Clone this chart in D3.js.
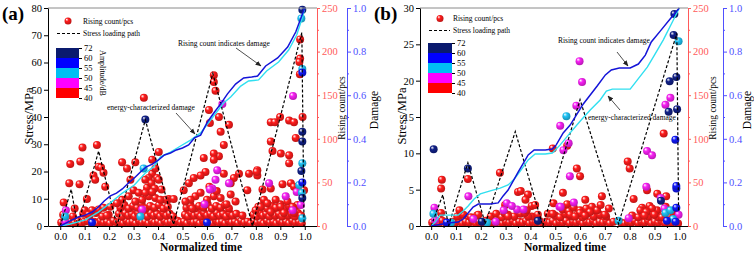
<!DOCTYPE html>
<html>
<head>
<meta charset="utf-8">
<script src="https://cdn.jsdelivr.net/npm/d3@7"></script>
<style>
  body { margin: 0; background: #fff; }
  svg text { font-family: "Liberation Serif", "Times New Roman", serif; }
</style>
</head>
<body>
<div id="chart"></div>
<script>
// ---- tick labels ----
var timeTicks = [0, 0.1, 0.2, 0.3, 0.4, 0.5, 0.6, 0.7, 0.8, 0.9, 1.0];
var aStressTicks = [0, 10, 20, 30, 40, 50, 60, 70, 80];
var bStressTicks = [0, 5, 10, 15, 20, 25, 30];
var countTicks = [0, 50, 100, 150, 200, 250];
var damageTicks = [0, 0.2, 0.4, 0.6, 0.8, 1.0];
var ampLabels = ['72', '60', '55', '50', '45', '40'];
var ampClasses = ['navy', 'blue', 'cyan', 'magenta', 'red'];

// ---- panel (a) ----
var aStressPath = [[0, 0], [0.045, 13.5], [0.071, 0], [0.157, 27.5], [0.232, 0], [0.348, 39], [0.463, 0.5],
  [0.624, 56], [0.786, 0], [0.988, 71], [0.997, 0]];

var aRiseDamage = [[0, 0], [0.025, 0.014], [0.049, 0.028], [0.074, 0.041], [0.102, 0.05], [0.131, 0.064],
  [0.156, 0.087], [0.18, 0.115], [0.205, 0.138], [0.23, 0.151], [0.254, 0.17], [0.279, 0.197], [0.303, 0.22],
  [0.328, 0.248], [0.352, 0.271], [0.377, 0.284], [0.402, 0.303], [0.426, 0.326], [0.451, 0.335], [0.475, 0.349],
  [0.5, 0.358], [0.525, 0.372], [0.549, 0.404], [0.574, 0.417], [0.602, 0.477], [0.631, 0.523], [0.656, 0.56],
  [0.684, 0.606], [0.717, 0.651], [0.75, 0.679], [0.783, 0.683], [0.807, 0.688], [0.84, 0.734], [0.889, 0.771],
  [0.93, 0.821], [0.963, 0.89], [0.992, 0.977], [1.0, 1.0]];

var aEnergyDamage = [[0, 0], [0.041, 0.009], [0.102, 0.028], [0.156, 0.064], [0.205, 0.106], [0.254, 0.151],
  [0.303, 0.188], [0.348, 0.243], [0.381, 0.271], [0.41, 0.317], [0.451, 0.339], [0.492, 0.367], [0.533, 0.394],
  [0.574, 0.427], [0.615, 0.486], [0.668, 0.564], [0.697, 0.592], [0.738, 0.642], [0.77, 0.665], [0.811, 0.67],
  [0.844, 0.711], [0.893, 0.752], [0.934, 0.807], [0.967, 0.876], [0.992, 0.963], [1.0, 1.0]];

var aRed = [[0.014, 27], [0.037, 49], [0.041, 71], [0.059, 20], [0.079, 48], [0.082, 74], [0.091, 90], [0.109, 31],
  [0.1, 18], [0.136, 58], [0.143, 53], [0.15, 93], [0.157, 68], [0.167, 67], [0.177, 61], [0.184, 45], [0.13, 18],
  [0.157, 19], [0.177, 21], [0.205, 22], [0.116, 13], [0.191, 12],
  [0.253, 73], [0.273, 66], [0.307, 73], [0.287, 53], [0.376, 60], [0.396, 55], [0.362, 55], [0.348, 53], [0.403, 53],
  [0.355, 44], [0.373, 49], [0.386, 43], [0.414, 42], [0.389, 66], [0.403, 85], [0.376, 76], [0.444, 31], [0.464, 31],
  [0.43, 30], [0.3, 41], [0.321, 38], [0.28, 34], [0.253, 30], [0.232, 26], [0.307, 28], [0.335, 30], [0.362, 34],
  [0.389, 32], [0.41, 30], [0.348, 38], [0.376, 39], [0.342, 147],
  [0.628, 173], [0.628, 165], [0.635, 155], [0.608, 133], [0.649, 125], [0.69, 116], [0.612, 118], [0.656, 108],
  [0.669, 93], [0.649, 80], [0.628, 83], [0.628, 76], [0.587, 78], [0.594, 62], [0.574, 58], [0.546, 55], [0.526, 49],
  [0.505, 41], [0.669, 60], [0.71, 55], [0.731, 60], [0.772, 60], [0.806, 64], [0.806, 58], [0.765, 41], [0.697, 49],
  [0.553, 34], [0.533, 30], [0.628, 34], [0.656, 32], [0.697, 36], [0.717, 28], [0.512, 28], [0.574, 38], [0.61, 45],
  [0.6, 30], [0.64, 40], [0.68, 25], [0.54, 20],
  [0.861, 119], [0.878, 119], [0.899, 125], [0.936, 121], [0.956, 119], [0.991, 125], [0.963, 101], [0.861, 97],
  [0.868, 86], [0.936, 81], [0.936, 72], [0.902, 83], [0.827, 42], [0.861, 43], [0.909, 48], [0.943, 49], [0.956, 45],
  [0.997, 41], [0.803, 62], [0.981, 214], [0.981, 192], [0.978, 188], [0.98, 174], [0.833, 30], [0.82, 22],
  [0.847, 26], [0.881, 30], [0.902, 22], [0.929, 28], [0.95, 22], [0.861, 16], [0.799, 18], [0.915, 15], [0.956, 15]];

var aRedLow = [[0.004, 4], [0.017, 6], [0.03, 3], [0.044, 5], [0.058, 4], [0.072, 6], [0.086, 3], [0.099, 5],
  [0.112, 6], [0.125, 4], [0.139, 5], [0.152, 3], [0.165, 6], [0.178, 4], [0.191, 5], [0.204, 3], [0.218, 6],
  [0.232, 4], [0.245, 5], [0.258, 3], [0.27, 6], [0.283, 4], [0.296, 5], [0.309, 3], [0.322, 6], [0.335, 4],
  [0.348, 5], [0.361, 3], [0.374, 6], [0.387, 4], [0.4, 5], [0.413, 3], [0.426, 6], [0.439, 4], [0.452, 5],
  [0.466, 3], [0.48, 6], [0.493, 4], [0.506, 5], [0.519, 3], [0.532, 6], [0.545, 4], [0.558, 5], [0.571, 3],
  [0.584, 6], [0.597, 4], [0.61, 5], [0.623, 3], [0.636, 6], [0.649, 4], [0.662, 5], [0.675, 3], [0.688, 6],
  [0.701, 4], [0.714, 5], [0.727, 3], [0.74, 6], [0.753, 4], [0.766, 5], [0.779, 3], [0.793, 6], [0.806, 4],
  [0.819, 5], [0.832, 3], [0.845, 6], [0.858, 4], [0.871, 5], [0.884, 3], [0.897, 6], [0.91, 4], [0.923, 5],
  [0.936, 3], [0.949, 6], [0.962, 4], [0.975, 5], [0.988, 3],
  [0.012, 13], [0.052, 11], [0.094, 14], [0.12, 12], [0.146, 15], [0.172, 11], [0.198, 13], [0.24, 14], [0.253, 11],
  [0.266, 15], [0.279, 12], [0.292, 14], [0.305, 11], [0.318, 15], [0.331, 12], [0.344, 14], [0.357, 11], [0.37, 15],
  [0.383, 12], [0.396, 14], [0.409, 11], [0.422, 15], [0.435, 12], [0.448, 14], [0.462, 11], [0.51, 13], [0.523, 11],
  [0.536, 15], [0.549, 12], [0.562, 14], [0.575, 11], [0.588, 15], [0.601, 12], [0.614, 14], [0.627, 11], [0.64, 15],
  [0.653, 12], [0.666, 14], [0.679, 11], [0.692, 15], [0.705, 12], [0.72, 14], [0.745, 12], [0.79, 13], [0.803, 11],
  [0.816, 15], [0.829, 12], [0.842, 14], [0.855, 11], [0.868, 15], [0.881, 12], [0.894, 14], [0.907, 11], [0.92, 15],
  [0.933, 12], [0.946, 14], [0.959, 11], [0.972, 15], [0.985, 12],
  [0.246, 21], [0.262, 24], [0.28, 20], [0.298, 23], [0.315, 21], [0.333, 25], [0.35, 20], [0.368, 23], [0.386, 21],
  [0.404, 24], [0.422, 20], [0.44, 22], [0.516, 21], [0.532, 24], [0.55, 20], [0.568, 23], [0.585, 21], [0.603, 25],
  [0.62, 20], [0.638, 23], [0.656, 21], [0.674, 24], [0.69, 20], [0.81, 22], [0.828, 24], [0.846, 20], [0.864, 23],
  [0.882, 21], [0.9, 25], [0.918, 20], [0.936, 23], [0.954, 21], [0.97, 24]];

var aMagenta = [[0.023, 18], [0.02, 5], [0.335, 19], [0.663, 140], [0.642, 64], [0.635, 53], [0.622, 43], [0.612, 42],
  [0.69, 49], [0.59, 25], [0.854, 49], [0.922, 34], [0.967, 39], [0.984, 24], [0.95, 18], [0.952, 149]];
var aCyan = [[0.341, 66], [0.02, 11], [0.328, 11], [0.986, 238], [0.99, 180], [0.99, 72], [0.977, 47], [0.99, 9],
  [0.988, 38]];
var aBlue = [[0.99, 176], [0.99, 50], [0.6, 4], [0.13, 4]];
var aNavy = [[0.348, 122], [0.99, 248], [0.99, 108], [0.99, 97], [0.986, 63], [0.99, 32]];

// ---- panel (b) ----
var bStressPath = [[0, 0], [0.047, 4.3], [0.07, 0], [0.148, 8.7], [0.218, 0.3], [0.339, 13], [0.45, 0],
  [0.6, 17.4], [0.755, 0.3], [0.99, 26.5], [0.997, 2]];

var bRiseDamage = [[0, 0], [0.024, 0.005], [0.069, 0.014], [0.109, 0.018], [0.129, 0.032], [0.149, 0.06],
  [0.169, 0.087], [0.19, 0.101], [0.238, 0.101], [0.27, 0.106], [0.29, 0.138], [0.31, 0.165], [0.351, 0.248],
  [0.391, 0.326], [0.415, 0.349], [0.46, 0.349], [0.488, 0.353], [0.504, 0.372], [0.532, 0.427], [0.56, 0.463],
  [0.613, 0.56], [0.669, 0.642], [0.702, 0.693], [0.726, 0.716], [0.758, 0.725], [0.802, 0.725], [0.835, 0.743],
  [0.863, 0.784], [0.887, 0.844], [0.923, 0.894], [0.976, 0.968], [1.0, 1.0]];

var bEnergyDamage = [[0, 0], [0.016, 0.018], [0.036, 0.05], [0.06, 0.05], [0.109, 0.05], [0.129, 0.069],
  [0.149, 0.092], [0.173, 0.124], [0.198, 0.147], [0.238, 0.161], [0.278, 0.174], [0.31, 0.188], [0.335, 0.216],
  [0.359, 0.252], [0.391, 0.303], [0.419, 0.33], [0.46, 0.33], [0.488, 0.335], [0.52, 0.372], [0.56, 0.427],
  [0.601, 0.482], [0.641, 0.532], [0.681, 0.578], [0.706, 0.619], [0.73, 0.628], [0.802, 0.628], [0.831, 0.67],
  [0.871, 0.729], [0.895, 0.775], [0.935, 0.853], [0.976, 0.945], [1.0, 1.0]];

var bRed = [[0.043, 53], [0.04, 43], [0.148, 54], [0.04, 15], [0.114, 18], [0.277, 61], [0.35, 39], [0.361, 40],
  [0.39, 36], [0.405, 23], [0.419, 24], [0.391, 11], [0.378, 15], [0.298, 24], [0.296, 15], [0.19, 13], [0.49, 89],
  [0.548, 92], [0.587, 66], [0.6, 57], [0.531, 38], [0.548, 25], [0.493, 26], [0.621, 30], [0.648, 22], [0.688, 34],
  [0.669, 18], [0.683, 24], [0.64, 16], [0.716, 20], [0.937, 106], [0.792, 74], [0.8, 66], [0.816, 31], [0.87, 41],
  [0.911, 37], [0.947, 34], [0.89, 20], [0.843, 18], [0.867, 16], [0.97, 15], [0.38, 30], [0.385, 18], [0.31, 11],
  [0.47, 14], [0.49, 14], [0.56, 13], [0.6, 15], [0.62, 12], [0.58, 11], [0.7, 13], [0.86, 12], [0.9, 13],
  [0.93, 10], [0.96, 11]];

var bRedLow = [[0.004, 4], [0.018, 5], [0.031, 3], [0.045, 6], [0.058, 4], [0.072, 3], [0.085, 5], [0.099, 4],
  [0.112, 6], [0.126, 3], [0.139, 5], [0.153, 4], [0.166, 6], [0.18, 3], [0.193, 5], [0.207, 4], [0.22, 6],
  [0.234, 3], [0.247, 5], [0.261, 4], [0.274, 6], [0.288, 3], [0.301, 5], [0.315, 4], [0.328, 6], [0.342, 3],
  [0.355, 5], [0.369, 4], [0.382, 6], [0.396, 3], [0.409, 5], [0.423, 4], [0.436, 6], [0.45, 3], [0.463, 5],
  [0.477, 4], [0.49, 6], [0.504, 3], [0.517, 5], [0.531, 4], [0.544, 6], [0.558, 3], [0.571, 5], [0.585, 4],
  [0.598, 6], [0.612, 3], [0.625, 5], [0.639, 4], [0.652, 6], [0.666, 3], [0.679, 5], [0.693, 4], [0.706, 6],
  [0.72, 3], [0.735, 5], [0.765, 4], [0.78, 3], [0.793, 5], [0.807, 4], [0.82, 6], [0.834, 3], [0.847, 5],
  [0.861, 4], [0.874, 6], [0.888, 3], [0.901, 5], [0.915, 4], [0.928, 6], [0.942, 3], [0.955, 5], [0.969, 4],
  [0.982, 6], [0.995, 3],
  [0.105, 11], [0.13, 13], [0.16, 10], [0.185, 12], [0.24, 11], [0.262, 14], [0.285, 10], [0.31, 13], [0.335, 11],
  [0.36, 14], [0.405, 11], [0.43, 13], [0.5, 12], [0.52, 10], [0.54, 14], [0.565, 11], [0.59, 13], [0.61, 10],
  [0.63, 14], [0.655, 11], [0.68, 13], [0.705, 11], [0.81, 12], [0.835, 10], [0.855, 13], [0.875, 11], [0.895, 14],
  [0.915, 10], [0.935, 13], [0.955, 11], [0.975, 14],
  [0.53, 19], [0.555, 17], [0.575, 21], [0.6, 18], [0.625, 20], [0.66, 18], [0.85, 21], [0.88, 23], [0.91, 18],
  [0.945, 22], [0.985, 19]];

var bMagenta = [[0.013, 21], [0.016, 7], [0.15, 34], [0.52, 115], [0.598, 189], [0.608, 165], [0.585, 138],
  [0.554, 95], [0.533, 87], [0.517, 22], [0.292, 18], [0.305, 26], [0.346, 19], [0.325, 23], [0.372, 19],
  [0.559, 57], [0.522, 22], [0.575, 27], [0.87, 86], [0.89, 81], [0.867, 45], [0.925, 32], [0.94, 20], [0.964, 147],
  [0.944, 139], [0.796, 9], [0.997, 13], [0.17, 8], [0.26, 5]];
var bCyan = [[0.009, 14], [0.225, 4], [0.545, 126], [0.997, 212], [0.755, 6], [0.944, 15], [0.964, 18], [0.975, 8],
  [0.08, 4]];
var bBlue = [[0.988, 21], [0.988, 43], [0.988, 46], [0.984, 99], [0.063, 4], [0.95, 6], [0.985, 5]];
var bNavy = [[0.01, 88], [0.148, 66], [0.43, 6], [0.204, 5], [0.98, 243], [0.977, 219], [0.961, 166], [0.988, 171],
  [0.991, 134], [0.957, 131], [0.926, 29]];

// ---- look ----
var ballColors = { navy: '#102088', blue: '#1018f8', cyan: '#20c4f6', magenta: '#f820f4', red: '#ff1c1c' };
var bandColors = { navy: '#0a1a6e', blue: '#0000ff', cyan: '#00bff3', magenta: '#ff00ff', red: '#ff0000' };
var riseColor = '#1414d8';
var energyColor = '#30dff0';
var redAxisColor = '#ff5a5a';
var blueAxisColor = '#5050ff';

var panels = [
  {
    tag: '(a)', tagX: 2,
    left: 48, right: 317, top: 8, bottom: 226, xDomain: [-0.05, 1.05],
    stressMax: 80, stressTicks: aStressTicks, blueX: 347,
    stressPath: aStressPath, rise: aRiseDamage, energy: aEnergyDamage,
    balls: [['red', aRedLow], ['red', aRed], ['magenta', aMagenta], ['cyan', aCyan], ['blue', aBlue], ['navy', aNavy]],
    stressTitle: [33, 116], countTitle: [345, 108], damageTitle: [378, 110], xTitle: [201, 251],
    legend: { ballX: 68, ballY: 21, dashX1: 57, dashX2: 80, dashY: 33.5, textX: 83 },
    cbar: { x: 56, y: 48, w: 23, h: 50 }, ampTitle: [100, 73],
    notes: [
      { text: 'Rising count indicates damage', tx: 178, ty: 46, from: [236, 48], to: [261, 66] },
      { text: 'energy-characterized damage', tx: 107, ty: 110, from: [176, 113], to: [195, 134] }
    ]
  },
  {
    tag: '(b)', tagX: 374,
    left: 420, right: 688, top: 8, bottom: 226, xDomain: [-0.045, 1.035],
    stressMax: 30, stressTicks: bStressTicks, blueX: 723,
    stressPath: bStressPath, rise: bRiseDamage, energy: bEnergyDamage,
    balls: [['red', bRedLow], ['red', bRed], ['magenta', bMagenta], ['cyan', bCyan], ['blue', bBlue], ['navy', bNavy]],
    stressTitle: [406, 116], countTitle: [716, 108], damageTitle: [751, 110], xTitle: [565, 251],
    legend: { ballX: 440, ballY: 18.5, dashX1: 429, dashX2: 450, dashY: 30.5, textX: 453 },
    cbar: { x: 428, y: 43, w: 24, h: 50 }, ampTitle: null,
    notes: [
      { text: 'Rising count indicates damage', tx: 558, ty: 43, from: [617, 52], to: [628, 66] },
      { text: 'energy-characterized damage', tx: 588, ty: 119.5, from: [620, 110], to: [608, 96] }
    ]
  }
];

var svg = d3.select('#chart')
    .append('svg')
    .attr('width', 754)
    .attr('height', 259);

var defs = svg.append('defs');
Object.keys(ballColors).forEach(function(k) {
  var gr = defs.append('radialGradient')
      .attr('id', 'ball-' + k)
      .attr('cx', '45%').attr('cy', '42%').attr('r', '60%')
      .attr('fx', '30%').attr('fy', '28%');
  gr.append('stop').attr('offset', '0%').attr('stop-color', '#ffffff');
  gr.append('stop').attr('offset', '38%').attr('stop-color', ballColors[k]);
  gr.append('stop').attr('offset', '100%').attr('stop-color', d3.color(ballColors[k]).darker(0.9));
});
defs.append('marker')
    .attr('id', 'arrow')
    .attr('viewBox', '0 0 10 10')
    .attr('refX', 9).attr('refY', 5)
    .attr('markerWidth', 6).attr('markerHeight', 6)
    .attr('markerUnits', 'userSpaceOnUse')
    .attr('orient', 'auto')
  .append('path')
    .attr('d', 'M0,1 L10,5 L0,9 Z')
    .attr('fill', '#222');

function styleAxis(sel, color, size) {
  sel.attr('font-family', null).attr('font-size', null);
  sel.selectAll('path, line').attr('stroke', color);
  sel.selectAll('text').attr('fill', color).style('font-size', size + 'px');
}

function vLabel(text, pos, size, color, angle) {
  svg.append('text')
      .attr('transform', 'translate(' + pos[0] + ',' + pos[1] + ') rotate(' + angle + ')')
      .attr('text-anchor', 'middle')
      .style('font-size', size + 'px')
      .attr('fill', color)
      .text(text);
}

panels.forEach(function(p, i) {
  var x = d3.scaleLinear().domain(p.xDomain).range([p.left, p.right]);
  var yS = d3.scaleLinear().domain([0, p.stressMax]).range([p.bottom, p.top]);
  var yC = d3.scaleLinear().domain([0, 250]).range([p.bottom, p.top]);
  var yD = d3.scaleLinear().domain([0, 1]).range([p.bottom, p.top]);

  defs.append('clipPath').attr('id', 'clip' + i)
    .append('rect')
      .attr('x', p.left).attr('y', p.top - 5)
      .attr('width', p.right - p.left).attr('height', p.bottom - p.top + 5);

  var plot = svg.append('g').attr('clip-path', 'url(#clip' + i + ')');

  // Create balls
  p.balls.forEach(function(b) {
    plot.append('g').selectAll('circle')
        .data(b[1])
        .enter()
        .append('circle')
        .attr('cx', function(d) { return x(d[0]); })
        .attr('cy', function(d) { return yC(d[1]); })
        .attr('r', 4)
        .attr('fill', 'url(#ball-' + b[0] + ')');
  });

  // Stress loading path
  plot.append('path')
      .datum(p.stressPath)
      .attr('d', d3.line().x(function(d) { return x(d[0]); }).y(function(d) { return yS(d[1]); }))
      .attr('fill', 'none')
      .attr('stroke', '#000')
      .attr('stroke-width', 1.2)
      .attr('stroke-dasharray', '3,2');

  // Damage curves
  var dLine = d3.line().x(function(d) { return x(d[0]); }).y(function(d) { return yD(d[1]); });
  plot.append('path').datum(p.energy).attr('d', dLine)
      .attr('fill', 'none').attr('stroke', energyColor).attr('stroke-width', 1.4);
  plot.append('path').datum(p.rise).attr('d', dLine)
      .attr('fill', 'none').attr('stroke', riseColor).attr('stroke-width', 1.5);

  // Frame top
  svg.append('line')
      .attr('x1', p.left).attr('x2', p.right)
      .attr('y1', p.top).attr('y2', p.top)
      .attr('stroke', '#8a8a8a');

  // Axes
  var gx = svg.append('g').attr('transform', 'translate(0,' + p.bottom + ')')
      .call(d3.axisBottom(x).tickValues(timeTicks).tickFormat(d3.format('.1f')).tickSize(4).tickSizeOuter(0).tickPadding(3));
  styleAxis(gx, '#000', 10.5);
  var gxm = svg.append('g').attr('transform', 'translate(0,' + p.bottom + ')')
      .call(d3.axisBottom(x).tickValues(timeTicks.slice(0, 10).map(function(t) { return t + 0.05; }))
        .tickFormat('').tickSize(2).tickSizeOuter(0));
  styleAxis(gxm, '#000', 10);
  gxm.select('.domain').remove();

  var gy = svg.append('g').attr('transform', 'translate(' + p.left + ',0)')
      .call(d3.axisLeft(yS).tickValues(p.stressTicks).tickSize(4).tickSizeOuter(0).tickPadding(2));
  styleAxis(gy, '#000', 10.5);

  var gc = svg.append('g').attr('transform', 'translate(' + p.right + ',0)')
      .call(d3.axisRight(yC).tickValues(countTicks).tickSize(3).tickSizeOuter(0).tickPadding(2));
  styleAxis(gc, redAxisColor, 10.5);
  var gcm = svg.append('g').attr('transform', 'translate(' + p.right + ',0)')
      .call(d3.axisRight(yC).tickValues(countTicks.slice(0, 5).map(function(c) { return c + 25; }))
        .tickFormat('').tickSize(2).tickSizeOuter(0));
  styleAxis(gcm, redAxisColor, 10);
  gcm.select('.domain').remove();

  var gd = svg.append('g').attr('transform', 'translate(' + p.blueX + ',0)')
      .call(d3.axisRight(yD).tickValues(damageTicks).tickFormat(d3.format('.1f')).tickSize(4).tickSizeOuter(0).tickPadding(2));
  styleAxis(gd, blueAxisColor, 10.5);
  var gdm = svg.append('g').attr('transform', 'translate(' + p.blueX + ',0)')
      .call(d3.axisRight(yD).tickValues(damageTicks.slice(0, 5).map(function(v) { return v + 0.1; }))
        .tickFormat('').tickSize(2).tickSizeOuter(0));
  styleAxis(gdm, blueAxisColor, 10);
  gdm.select('.domain').remove();

  // Titles
  svg.append('text').attr('x', p.tagX).attr('y', 20)
      .style('font-size', '19px').style('font-weight', 'bold').text(p.tag);
  vLabel('Stress/MPa', p.stressTitle, 12.5, '#000', -90);
  vLabel('Rising count/pcs', p.countTitle, 9.5, '#000', -90);
  vLabel('Damage', p.damageTitle, 11.5, '#000', -90);
  svg.append('text').attr('x', p.xTitle[0]).attr('y', p.xTitle[1])
      .attr('text-anchor', 'middle').style('font-size', '11.5px').style('font-weight', 'bold')
      .text('Normalized time');

  // Legend
  var L = p.legend;
  svg.append('circle').attr('cx', L.ballX).attr('cy', L.ballY).attr('r', 3.5).attr('fill', 'url(#ball-red)');
  svg.append('text').attr('x', L.textX).attr('y', L.ballY + 2.5).style('font-size', '7.5px').text('Rising count/pcs');
  svg.append('line').attr('x1', L.dashX1).attr('x2', L.dashX2).attr('y1', L.dashY).attr('y2', L.dashY)
      .attr('stroke', '#000').attr('stroke-width', 1.2).attr('stroke-dasharray', '3,2');
  svg.append('text').attr('x', L.textX).attr('y', L.dashY + 2.5).style('font-size', '7.5px').text('Stress loading path');

  // Amplitude colour bar
  var cb = p.cbar;
  var band = d3.scaleBand().domain(ampClasses).range([cb.y, cb.y + cb.h]);
  var cbAxisScale = d3.scalePoint().domain(ampLabels).range([cb.y, cb.y + cb.h]);
  svg.append('g').selectAll('rect')
      .data(ampClasses)
      .enter()
      .append('rect')
      .attr('x', cb.x)
      .attr('y', function(d) { return band(d); })
      .attr('width', cb.w)
      .attr('height', band.bandwidth())
      .attr('fill', function(d) { return bandColors[d]; });
  var gcb = svg.append('g').attr('transform', 'translate(' + (cb.x + cb.w) + ',0)')
      .call(d3.axisRight(cbAxisScale).tickSize(3).tickSizeOuter(0).tickPadding(2));
  styleAxis(gcb, '#000', 8.5);
  gcb.select('.domain').remove();
  if (p.ampTitle) {
    vLabel('Amplitude/dB', p.ampTitle, 8, '#000', 90);
  }

  // Annotations
  p.notes.forEach(function(n) {
    svg.append('text').attr('x', n.tx).attr('y', n.ty).style('font-size', '7.5px').text(n.text);
    svg.append('line')
        .attr('x1', n.from[0]).attr('y1', n.from[1])
        .attr('x2', n.to[0]).attr('y2', n.to[1])
        .attr('stroke', '#222').attr('stroke-width', 0.8)
        .attr('marker-end', 'url(#arrow)');
  });
});
</script>
</body>
</html>
